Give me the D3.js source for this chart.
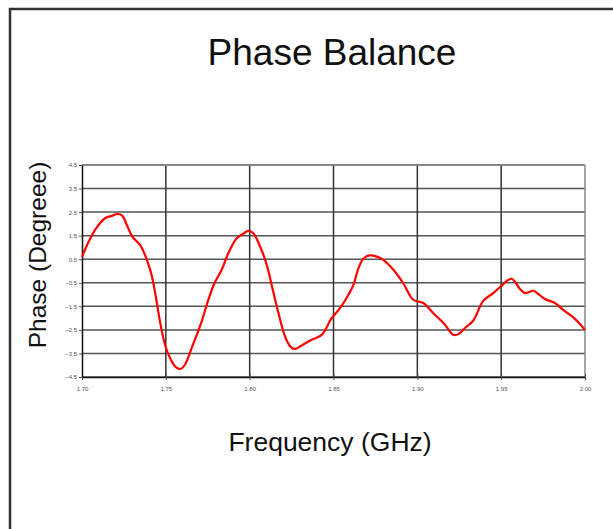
<!DOCTYPE html>
<html>
<head>
<meta charset="utf-8">
<script src="https://cdn.jsdelivr.net/npm/d3@7"></script>
<style>
  body { margin: 0; background: #fff; }
  text { font-family: "Liberation Sans", Arial, sans-serif; }
</style>
</head>
<body>
<div id="chart"></div>
<script>
// Phase balance readings
const freq = [1.700, 1.7038, 1.7082, 1.7137, 1.7177, 1.7213, 1.724, 1.7267, 1.730, 1.7346,
  1.7376, 1.7412, 1.7435, 1.7465, 1.7495, 1.7525, 1.7561, 1.759, 1.7614, 1.7654,
  1.7714, 1.775, 1.779, 1.7833, 1.7873, 1.7923, 1.7962, 1.7992, 1.8022, 1.8062,
  1.8102, 1.8131, 1.8167, 1.8211, 1.8246, 1.827, 1.831, 1.837, 1.843, 1.8489,
  1.8539, 1.8589, 1.8619, 1.8649, 1.8678, 1.8714, 1.8758, 1.8797, 1.8857, 1.8916,
  1.8976, 1.9036, 1.9095, 1.9165, 1.9214, 1.9244, 1.9284, 1.9334, 1.9393, 1.9453,
  1.9503, 1.9533, 1.9562, 1.9582, 1.9612, 1.9642, 1.9692, 1.9722, 1.9761, 1.9821,
  1.987, 1.994, 2.000];
const phase = [0.6, 1.22, 1.79, 2.24, 2.34, 2.42, 2.35, 1.96, 1.46, 1.11,
  0.68, -0.09, -0.87, -2.14, -3.13, -3.69, -4.09, -4.15, -3.98, -3.27,
  -2.14, -1.30, -0.52, 0.05, 0.76, 1.39, 1.58, 1.70, 1.60, 1.04,
  0.26, -0.59, -1.65, -2.78, -3.23, -3.31, -3.16, -2.92, -2.71, -2.0,
  -1.58, -1.01, -0.59, 0.12, 0.52, 0.66, 0.61, 0.47, 0.05, -0.52,
  -1.22, -1.36, -1.79, -2.28, -2.71, -2.68, -2.42, -2.10, -1.27, -0.94,
  -0.62, -0.42, -0.33, -0.45, -0.76, -0.94, -0.84, -0.98, -1.19, -1.36,
  -1.65, -2.03, -2.5];

const xTicks = [1.70, 1.75, 1.80, 1.85, 1.90, 1.95, 2.00];
const yTicks = [4.5, 3.5, 2.5, 1.5, 0.5, -0.5, -1.5, -2.5, -3.5, -4.5];

const width = 613, height = 529;
const plotLeft = 82, plotRight = 585, plotTop = 165, plotBottom = 377;

const svg = d3.select("#chart").append("svg")
  .attr("width", width)
  .attr("height", height);

// outer frame (runs off the right and bottom of the picture)
svg.append("rect")
  .attr("x", 10).attr("y", 9)
  .attr("width", width + 20).attr("height", height + 20)
  .attr("fill", "none")
  .attr("stroke", "#333")
  .attr("stroke-width", 2.5);

const x = d3.scaleLinear().domain([1.70, 2.00]).range([plotLeft, plotRight]);
const y = d3.scaleLinear().domain([-4.5, 4.5]).range([plotBottom, plotTop]);

// grid lines
svg.append("g").selectAll("line")
  .data(yTicks)
  .enter().append("line")
  .attr("x1", plotLeft).attr("x2", plotRight)
  .attr("y1", d => y(d)).attr("y2", d => y(d))
  .attr("stroke", "#555")
  .attr("stroke-width", 1.5);

svg.append("g").selectAll("line")
  .data(xTicks.slice(1))
  .enter().append("line")
  .attr("x1", d => x(d)).attr("x2", d => x(d))
  .attr("y1", plotTop).attr("y2", plotBottom)
  .attr("stroke", d => d === 2.00 ? "#888" : "#333")
  .attr("stroke-width", 1.5);

svg.append("line")
  .attr("x1", plotLeft).attr("x2", plotRight)
  .attr("y1", plotTop).attr("y2", plotTop)
  .attr("stroke", "#888").attr("stroke-width", 1.5);

// axes
const xAxis = d3.axisBottom(x)
  .tickValues(xTicks)
  .tickFormat(d3.format(".2f"))
  .tickSize(4)
  .tickSizeOuter(0);

const yAxis = d3.axisLeft(y)
  .tickValues(yTicks)
  .tickFormat(d3.format(".1f"))
  .tickSize(3)
  .tickSizeOuter(0);

const gx = svg.append("g")
  .attr("transform", `translate(0,${plotBottom})`)
  .call(xAxis);
gx.select(".domain").attr("stroke", "#111").attr("stroke-width", 1.5);
gx.selectAll(".tick line").attr("stroke", "#555").attr("y1", -3).attr("y2", 3);
gx.selectAll(".tick text")
  .attr("y", 10)
  .style("font-size", "6px")
  .attr("fill", "#555");

const gy = svg.append("g")
  .attr("transform", `translate(${plotLeft},0)`)
  .call(yAxis);
gy.select(".domain").attr("stroke", "#111").attr("stroke-width", 1.5);
gy.selectAll(".tick line").attr("stroke", "#555");
gy.selectAll(".tick text")
  .attr("x", -5)
  .style("font-size", "6px")
  .attr("fill", "#555");

// the curve
const line = d3.line()
  .x((d, i) => x(freq[i]))
  .y(d => y(d))
  .curve(d3.curveCatmullRom);

svg.append("path")
  .datum(phase)
  .attr("d", line)
  .attr("fill", "none")
  .attr("stroke", "#ff0000")
  .attr("stroke-width", 2.2)
  .attr("stroke-linejoin", "round");

// titles
svg.append("text")
  .attr("x", 332).attr("y", 65)
  .attr("text-anchor", "middle")
  .style("font-size", "37px")
  .attr("fill", "#111")
  .text("Phase Balance");

svg.append("text")
  .attr("x", 330).attr("y", 451)
  .attr("text-anchor", "middle")
  .style("font-size", "26.5px")
  .attr("fill", "#111")
  .text("Frequency (GHz)");

svg.append("text")
  .attr("transform", "translate(46,255) rotate(-90)")
  .attr("text-anchor", "middle")
  .style("font-size", "24.5px")
  .attr("fill", "#111")
  .text("Phase (Degreee)");
</script>
</body>
</html>
